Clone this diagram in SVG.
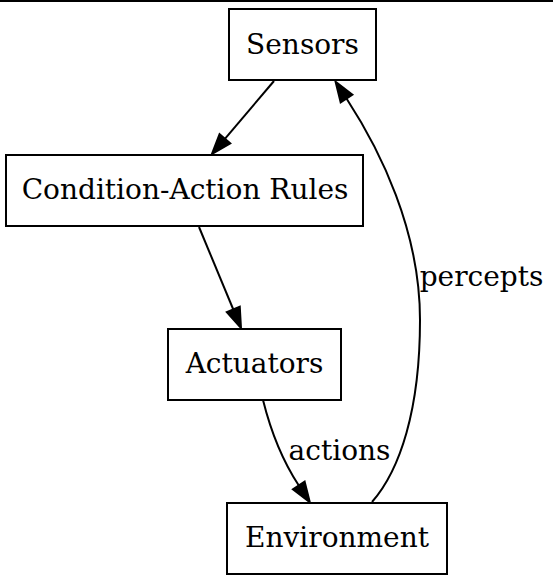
<svg xmlns="http://www.w3.org/2000/svg" width="553" height="583" viewBox="0 0 553 583">
<style>
.node rect{fill:#fff;stroke:#000;stroke-width:2}
text{font-family:"DejaVu Serif",serif;font-size:28px;fill:#000}
.node text{text-anchor:middle}
.edge{fill:none;stroke:#000;stroke-width:2}
</style>
<defs>
<marker id="ah" markerUnits="userSpaceOnUse" markerWidth="22" markerHeight="16" refX="0" refY="0" viewBox="0 -8 22 16" orient="auto" overflow="visible">
<path d="M0,-7 L20,0 L0,7 z" fill="#000" stroke="#000" stroke-width="2"/>
</marker>
</defs>
<rect width="553" height="583" fill="#fff"/>
<line x1="0" y1="1" x2="553" y2="1" stroke="#000" stroke-width="2"/>
<g id="connectors">
<path class="edge" d="M274,81 L224.9,138.8" marker-end="url(#ah)"/>
<path class="edge" d="M199,227 L233.3,309.5" marker-end="url(#ah)"/>
<path class="edge" d="M263,400 C270,428 282,460 298.8,485.5" marker-end="url(#ah)"/>
<path class="edge" d="M372,502 C400,470 420,410 420,320 C420,230 380,150 346.5,98.5" marker-end="url(#ah)"/>
<text x="339.5" y="460" text-anchor="middle">actions</text>
<text x="481.5" y="286" text-anchor="middle">percepts</text>
</g>
<g id="sensors" class="node"><rect x="229" y="9" width="147" height="71"/><text x="302.5" y="53.5">Sensors</text></g>
<g id="rules" class="node"><rect x="6" y="155" width="357" height="71"/><text x="185" y="199">Condition-Action Rules</text></g>
<g id="actuators" class="node"><rect x="168" y="329" width="173" height="71"/><text x="254.5" y="373">Actuators</text></g>
<g id="environment" class="node"><rect x="227" y="503" width="220" height="71"/><text x="337" y="547">Environment</text></g>
</svg>
